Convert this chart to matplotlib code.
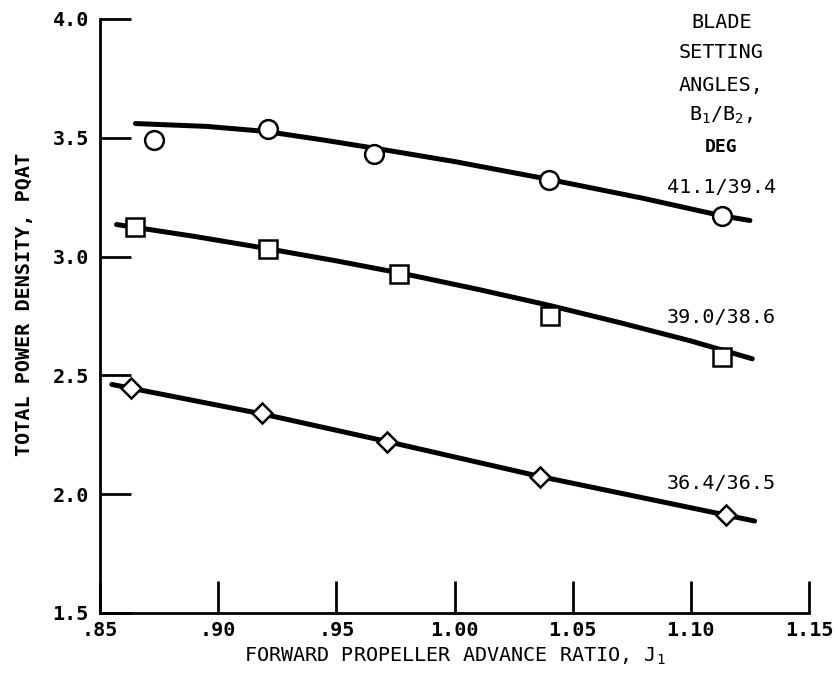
import numpy as np
import matplotlib
matplotlib.use("Agg")
import matplotlib.pyplot as plt

plt.rcParams['font.family'] = ['DejaVu Sans Mono']
plt.rcParams['mathtext.fontset'] = 'custom'
plt.rcParams['mathtext.rm'] = 'DejaVu Sans Mono'
plt.rcParams['mathtext.it'] = 'DejaVu Sans Mono'
plt.rcParams['mathtext.bf'] = 'DejaVu Sans Mono:bold'

# measured points (advance ratio J1, power density)
j_circle = [0.873, 0.921, 0.966, 1.040, 1.113]
p_circle = [3.49, 3.537, 3.43, 3.322, 3.171]
j_square = [0.865, 0.921, 0.9765, 1.0404, 1.113]
p_square = [3.125, 3.032, 2.927, 2.75, 2.577]
j_diamond = [0.863, 0.9186, 0.9715, 1.036, 1.115]
p_diamond = [2.447, 2.342, 2.22, 2.072, 1.912]

# faired curves
curve_j_circle = [0.865, 0.895, 0.92, 0.945, 0.97, 1.00, 1.04, 1.08, 1.113, 1.125]
curve_p_circle = [3.56, 3.548, 3.527, 3.49, 3.45, 3.40, 3.325, 3.245, 3.172, 3.152]
curve_j_square = [0.857, 0.89, 0.92, 0.95, 0.98, 1.01, 1.04, 1.07, 1.10, 1.126]
curve_p_square = [3.135, 3.085, 3.035, 2.982, 2.925, 2.862, 2.795, 2.722, 2.645, 2.57]
curve_j_diamond = [0.855, 0.92, 0.97, 1.036, 1.115, 1.127]
curve_p_diamond = [2.462, 2.335, 2.225, 2.075, 1.912, 1.887]

angle_labels = ["41.1/39.4", "39.0/38.6", "36.4/36.5"]
label_y = [3.289, 2.742, 2.047]

x_ticks = [0.85, 0.90, 0.95, 1.00, 1.05, 1.10, 1.15]
x_ticklabels = [".85", ".90", ".95", "1.00", "1.05", "1.10", "1.15"]
y_ticks = [1.5, 2.0, 2.5, 3.0, 3.5, 4.0]
y_ticklabels = ["1.5", "2.0", "2.5", "3.0", "3.5", "4.0"]

fig = plt.figure(figsize=(8.37, 6.85), dpi=100)
ax = fig.add_axes([100 / 837, 1 - 613 / 685, 709 / 837, 594 / 685])

lw = 3.6
ax.plot(curve_j_circle, curve_p_circle, color='black', lw=lw, solid_capstyle='round', solid_joinstyle='round')
ax.plot(curve_j_square, curve_p_square, color='black', lw=lw, solid_capstyle='round', solid_joinstyle='round')
ax.plot(curve_j_diamond, curve_p_diamond, color='black', lw=lw, solid_capstyle='round', solid_joinstyle='round')

ax.plot(j_circle, p_circle, 'o', ms=13.5, mfc='white', mec='black', mew=1.8, ls='none')
ax.plot(j_square, p_square, 's', ms=13.5, mfc='white', mec='black', mew=1.8, ls='none')
ax.plot(j_diamond, p_diamond, 'D', ms=10, mfc='white', mec='black', mew=1.8, ls='none')

for txt, yy in zip(angle_labels, label_y):
    ax.text(1.113, yy, txt, ha='center', va='center', fontsize=14.5)

title_lines = ["BLADE", "SETTING", "ANGLES,", "B$_1$/B$_2$,"]
title_y = [3.987, 3.861, 3.722, 3.596]
for txt, yy in zip(title_lines, title_y):
    ax.text(1.113, yy, txt, ha='center', va='center', fontsize=14.5)
ax.text(1.113, 3.461, "DEG", ha='center', va='center', fontsize=13, fontweight='bold')

ax.set_xlim(0.85, 1.15)
ax.set_ylim(1.5, 4.0)
ax.set_xticks(x_ticks)
ax.set_xticklabels(x_ticklabels, fontweight='bold')
ax.set_yticks(y_ticks)
ax.set_yticklabels(y_ticklabels, fontweight='bold')

ax.spines['top'].set_visible(False)
ax.spines['right'].set_visible(False)
ax.spines['left'].set_linewidth(2)
ax.spines['bottom'].set_linewidth(2)
ax.tick_params(axis='y', direction='in', length=22, width=2, labelsize=14.5, pad=8)
ax.tick_params(axis='x', direction='in', length=23, width=2, labelsize=14.5, pad=6)

ax.set_xlabel("FORWARD PROPELLER ADVANCE RATIO, J$_1$", fontsize=14.5, labelpad=4)
ax.set_ylabel("TOTAL POWER DENSITY, PQAT", fontsize=14.5, fontweight='bold')
ax.yaxis.set_label_coords(-0.093, 0.52)

fig.savefig("out.png", dpi=100)
